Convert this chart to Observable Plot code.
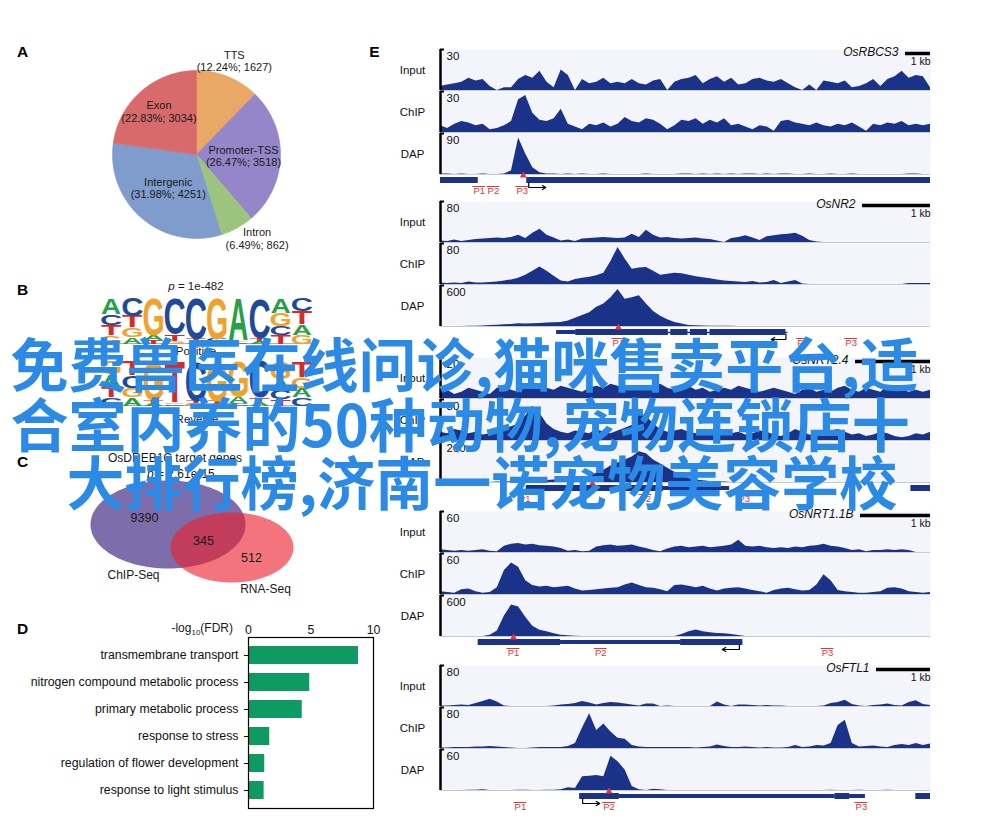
<!DOCTYPE html>
<html><head><meta charset="utf-8">
<script src="https://cdn.jsdelivr.net/npm/d3@7"></script>
<script src="https://cdn.jsdelivr.net/npm/@observablehq/plot@0.6"></script>
<style>
body{margin:0;background:#fff;}
#fig{position:relative;width:1000px;height:826px;overflow:hidden;background:#fff;font-family:"Liberation Sans",Arial,sans-serif;}
#fig > *{position:absolute;}
.lbl{position:absolute;line-height:1.2;white-space:nowrap;color:#1a1a1a;font-family:"Liberation Sans",Arial,sans-serif;}
</style></head><body><div id="fig"></div>
<script>
// ---------------- DATA ----------------
// A: genomic distribution
const pieNames = ["TTS", "Promoter-TSS", "Intron", "Intergenic", "Exon"];
const pieCounts = [1627, 3518, 862, 4251, 3034];
const piePct = ["12.24", "26.47", "6.49", "31.98", "22.83"];
const pieColors = ["#e9a865", "#9486c8", "#9cc47f", "#7f9ccd", "#d96a6b"];

// B: motif letter frequencies per position (forward)
const logoLetters = ["A", "C", "G", "T"];
const logoFreq = {
  A: [.36, .15, .10, .00, .05, .05, .92, .06, .33, .23],
  C: [.24, .40, .00, .80, .90, .05, .04, .88, .20, .30],
  G: [.18, .20, .82, .05, .00, .90, .04, .00, .28, .19],
  T: [.22, .25, .08, .15, .05, .00, .00, .06, .19, .28]
};
const logoColors = {A: "#28a046", C: "#1f4a99", G: "#f2a12a", T: "#d62a2a"};

// C: overlap counts
const vennChip = 9390, vennBoth = 345, vennRna = 512;

// D: GO terms
const goTerms = ["transmembrane transport", "nitrogen compound metabolic process", "primary metabolic process", "response to stress", "regulation of flower development", "response to light stimulus"];
const goValues = [8.8, 4.9, 4.3, 1.7, 1.3, 1.25];
const goTicks = [0, 5, 10];

// E: coverage tracks (binned)
const rbcs3Input = [3,4,5,6,9,7,8,3,0,2, 2,8,11,9,14,6,2,15,11,0, 8,5,6,9,5,6,5,8,5,4, 7,8,0,6,8,9,11,5,8,10, 6,9,4,5,8,9,7,6,8,5, 2,0,4,0,7,6,5,7,2,3, 5,8,3,8,10,14,9,11,10,2];
const rbcs3Chip = [5,3,6,8,7,5,6,2,3,5, 8,24,27,14,9,8,10,17,6,4, 2,6,5,7,4,6,11,8,7,10, 9,6,2,5,9,8,10,6,9,7, 10,5,6,4,2,5,4,1,8,9, 7,6,5,7,5,4,6,5,7,4, 1,6,5,7,6,8,5,6,5,6];
const rbcs3Dap = [1,1,0,1,0,0,1,0,0,1, 8,80,45,15,4,1,1,0,1,0, 1,0,0,1,0,0,0,0,0,1, 0,0,0,0,1,1,0,1,0,1, 0,1,0,1,1,0,1,0,1,1, 0,0,1,0,0,1,0,0,1,0, 0,0,0,0,0,0,1,1,0,0];
const nr2Input = [3,2,5,2,4,6,7,8,9,8, 10,14,8,18,26,14,9,3,5,2, 7,8,9,10,9,8,9,16,10,24, 14,9,10,8,7,8,9,7,6,3, 0,8,10,13,9,4,11,13,15,16, 18,12,4,1,0,0,0,0,0,0, 0,0,0,0,0,0,0,0,0,0];
const nr2Chip = [3,2,3,2,5,3,3,4,5,7, 9,12,18,26,34,26,16,7,5,10, 12,14,17,22,45,72,50,30,32,33, 26,18,20,22,21,18,15,13,11,9, 7,6,5,4,6,3,4,8,2,5, 8,1,0,0,0,0,0,0,0,0, 0,0,0,0,0,0,2,2,2,2];
const nr2Dap = [0,0,0,0,3,5,8,15,20,25, 30,40,35,40,45,50,55,60,80,120, 160,200,280,330,420,540,400,420,450,330, 220,150,100,60,35,15,10,8,5,4, 3,2,0,0,0,0,0,0,0,0, 0,0,0,0,0,0,0,0,0,0, 0,0,0,0,0,0,0,0,0,0];
const nrt24Input = [3,4,2,3,5,4,3,2,5,6, 4,3,5,6,7,5,4,6,5,4, 3,5,6,5,7,6,5,4,6,5, 6,7,5,4,5,6,4,5,3,4, 5,4,6,5,4,3,4,5,4,3, 2,4,5,3,4,3,5,6,4,3, 5,4,3,6,5,4,3,4,3,4];
const nrt24Chip = [6,5,8,7,5,6,4,5,7,9, 10,12,18,25,20,12,8,6,5,7, 6,5,8,6,5,7,9,11,20,18, 12,8,6,7,8,6,5,4,6,8, 7,5,6,4,5,7,6,4,3,5, 8,6,4,3,5,7,8,6,4,5, 3,4,6,5,3,2,3,5,4,6];
const nrt24Dap = [0,0,0,0,0,0,0,0,2,3, 4,5,5,6,8,10,12,14,15,18, 20,30,45,60,80,95,110,125,150,140, 110,90,70,50,35,20,12,8,5,3, 2,0,0,0,0,0,0,0,0,0, 0,0,0,0,0,0,0,0,0,0, 0,0,0,0,0,0,0,0,0,0];
const nrt11bInput = [4,3,2,3,2,3,4,2,1,9, 12,13,11,12,10,9,8,6,2,3, 1,2,8,10,11,9,10,11,8,6, 3,1,5,8,9,7,8,9,7,8, 9,11,18,9,8,9,7,6,7,6, 8,7,9,10,12,9,8,6,3,4, 1,3,3,4,3,4,3,0,0,0];
const nrt11bChip = [4,3,2,7,8,4,2,3,10,35, 46,40,20,13,11,12,10,11,12,8, 5,6,7,8,9,10,14,17,13,10, 9,7,4,13,14,12,10,12,8,5, 8,9,10,8,6,4,2,6,8,9, 7,5,6,14,29,20,6,4,3,2, 2,3,4,9,10,8,4,3,2,3];
const nrt11bDap = [0,0,0,0,0,0,0,20,80,300, 460,430,280,150,90,70,40,20,10,4, 0,0,0,0,0,0,0,0,0,0, 0,0,0,0,30,70,95,70,55,45, 40,30,15,0,0,0,0,0,0,0, 0,0,0,0,0,0,0,0,0,0, 0,0,0,0,0,0,0,0,0,0];
const ftl1Input = [1,1,2,3,2,6,10,14,9,1, 0,0,0,0,0,0,1,3,4,6, 10,7,3,6,8,7,5,3,1,5, 5,0,1,0,0,0,0,0,0,9, 3,0,3,3,2,1,2,1,1,0, 0,0,0,0,1,6,8,12,4,1, 0,2,3,5,2,1,8,11,4,2];
const ftl1Chip = [1,1,2,2,2,3,3,4,3,2, 1,0,0,1,2,2,2,2,4,10, 40,68,35,48,32,20,18,6,3,2, 2,2,2,2,2,2,1,2,3,7, 4,2,2,3,2,1,2,1,1,2, 6,2,3,6,5,10,45,55,10,3, 4,5,3,2,6,8,6,10,6,9];
const ftl1Dap = [0,0,0,0,0.5,0.5,1,0,0,0, 0,0.5,0.5,0,0,0.5,0.5,1,4,3, 20,21,22,20,50,42,30,6,1,0, 2,1,0,0,0,0,0,0,0,0, 0,0,0,0,0,0,0,0,0,0, 0,0,0,0,0,0.5,0,0,0,0.5, 0,0,0,0.5,0,0,0,0,0,0];

// gene models, in percent of the window: [start, end, thickness]
const rbcs3Exons = [[0, 7.7, 6], [17.6, 100, 6]];
const rbcs3Lines = [];
const rbcs3Site = 16.9, rbcs3Primers = [7.9, 10.8, 16.7], rbcs3Tss = [18, 21.5];
const nr2Exons = [[23.7, 27.6, 4], [27.6, 46.5, 6], [47, 50.5, 6], [51, 54.5, 6], [55, 70.5, 6]];
const nr2Lines = [[23.7, 70.9]];
const nr2Site = 36.3, nr2Primers = [36.3, 74, 83.8], nr2Tss = [70.5, 67.5];
const nrt24Exons = [[17.5, 45.5, 6], [45.5, 59, 4], [96, 100, 6]];
const nrt24Lines = [[17.5, 59]];
const nrt24Site = 31, nrt24Primers = [17.2, 41.8, 62], nrt24Tss = null;
const nrt11bExons = [[7.7, 24.5, 6], [24.5, 49, 4], [49, 61.7, 6]];
const nrt11bLines = [[7.7, 61.7]];
const nrt11bSite = 14.9, nrt11bPrimers = [14.9, 32.7, 79], nrt11bTss = [61, 57.5];
const ftl1Exons = [[28.4, 36.5, 6], [36.5, 80.5, 4], [80.5, 83.5, 6], [83.5, 86.7, 4], [97, 100, 6]];
const ftl1Lines = [[28.4, 86.7]];
const ftl1Site = 34.4, ftl1Primers = [16.3, 34.4, 85.9], ftl1Tss = [29, 32.5];

const overlayLines = ["免费兽医在线问诊,猫咪售卖平台,适", "合室内养的50种动物,宠物连锁店十", "大排行榜,济南一诺宠物美容学校"];

// ---------------- HELPERS ----------------
const fig = document.getElementById("fig");
const pstyle = "background:transparent;overflow:visible;max-width:none;font-family:'Liberation Sans',Arial,sans-serif;font-size:11px;color:#111;";
function place(el, left, top) { el.style.position = "absolute"; el.style.left = left + "px"; el.style.top = top + "px"; fig.appendChild(el); return el; }
function htmlLabel(html, x, y, anchor, size) {
  const d = document.createElement("div");
  d.className = "lbl"; d.innerHTML = html; d.style.fontSize = size + "px";
  d.style.top = (y - size * 0.62) + "px";
  if (anchor === "middle") { d.style.left = x + "px"; d.style.transform = "translateX(-50%)"; }
  else if (anchor === "end") { d.style.right = (1000 - x) + "px"; }
  else d.style.left = x + "px";
  fig.appendChild(d);
}
const pageScales = {x: {domain: [0, 1000], range: [0, 1000], axis: null}, y: {domain: [0, 826], range: [0, 826], axis: null}};

// ---------------- PANEL LETTERS ----------------
const panelLetters = ["A", "B", "C", "D", "E"];
const panelPos = [[22, 52], [22, 290], [22, 462], [22, 629], [374, 52]];
place(Plot.plot({width: 1000, height: 826, margin: 0, ...pageScales, style: pstyle,
  marks: [Plot.text(panelLetters, {x: (d, i) => panelPos[i][0], y: (d, i) => panelPos[i][1], text: d => d, fontSize: 15.5, fontWeight: "bold", fill: "#000", textAnchor: "middle"})]
}), 0, 0);

// ---------------- A: PIE ----------------
{
  const R = 84, W = 300, H = 230;
  const total = d3.sum(pieCounts);
  let acc = 0;
  const slices = pieNames.map((name, k) => {
    const a0 = acc / total * 2 * Math.PI; acc += pieCounts[k]; const a1 = acc / total * 2 * Math.PI;
    return {name, a0, a1, mid: (a0 + a1) / 2, count: pieCounts[k], pct: piePct[k], color: pieColors[k]};
  });
  const labelR = [1.2, 0.56, 1.2, 0.52, 0.68];
  const labelShift = [[0, 0], [0, 0], [0.14, 0.05], [0, 0], [0, 0]];
  const wedge = s => {
    const pts = [[0, 0]];
    const steps = Math.max(2, Math.ceil((s.a1 - s.a0) / (Math.PI / 180)));
    for (let j = 0; j <= steps; j++) { const a = s.a0 + (s.a1 - s.a0) * j / steps; pts.push([Math.sin(a), Math.cos(a)]); }
    pts.push([0, 0]);
    return pts;
  };
  place(Plot.plot({width: W, height: H, margin: 0, style: pstyle,
    x: {domain: [-W / 2 / R, W / 2 / R], axis: null}, y: {domain: [-H / 2 / R, H / 2 / R], axis: null},
    marks: [
      ...slices.map(s => Plot.line(wedge(s), {x: d => d[0], y: d => d[1], fill: s.color, stroke: s.color, strokeWidth: 0.6})),
      Plot.text(slices, {
        x: (s, i) => labelR[i] * Math.sin(s.mid) + labelShift[i][0],
        y: (s, i) => labelR[i] * Math.cos(s.mid) + labelShift[i][1],
        text: s => `${s.name}\n(${s.pct}%; ${s.count})`, fontSize: 11, lineHeight: 1.12, fill: "#1a1a1a"})
    ]}), 196 - W / 2, 153.5 - H / 2);
}

// ---------------- B: LOGO ----------------
function logoRows(freq) {
  const rows = [];
  for (let j = 0; j < 10; j++) {
    const ls = logoLetters.map(L => ({L, f: freq[L][j]})).filter(d => d.f > 0).sort((a, b) => a.f - b.f);
    let c = 0;
    ls.forEach(d => { rows.push({pos: j + 1, letter: d.L, y1: c, y2: c + d.f}); c += d.f; });
  }
  return rows;
}
const comp = {A: "T", C: "G", G: "C", T: "A"};
const revFreq = {};
logoLetters.forEach(L => { revFreq[L] = logoFreq[comp[L]].slice().reverse(); });
const inkW = {A: 7.1, C: 6.4, G: 6.9, T: 5.9};
function drawLogo(freq, top, height) {
  const rows = logoRows(freq);
  const W = 212;
  const p = Plot.plot({width: W, height, margin: 0, style: pstyle,
    x: {domain: [0.5, 10.5], axis: null}, y: {domain: [0, 1], axis: null}, color: {type: "identity"},
    marks: [
      Plot.ruleY([0], {stroke: "#b0b0b0", strokeWidth: 1}),
      Plot.text(rows, {x: "pos", y: "y1", text: "letter", fill: d => logoColors[d.letter], fontSize: 10, fontWeight: "bold", fontFamily: "Liberation Sans, Arial, sans-serif", textAnchor: "middle"})
    ]});
  place(p, 100, top);
  const xs = p.scale && p.scale("x"), ys = p.scale && p.scale("y");
  const fx = v => xs && xs.apply ? xs.apply(v) : (v - 0.5) / 10 * W;
  const fy = v => ys && ys.apply ? ys.apply(v) : (1 - v) * height;
  const texts = p.querySelectorAll('g[aria-label="text"] text');
  texts.forEach((t, k) => {
    const d = rows[k]; if (!d) return;
    const X = fx(d.pos), Yb = fy(d.y1), Yt = fy(d.y2);
    const w = (fx(2) - fx(1)) * 0.93, h = Math.max(0.1, Yb - Yt);
    t.setAttribute("y", "0"); t.removeAttribute("dy");
    t.setAttribute("transform", `translate(${X},${Yb}) scale(${w / inkW[d.letter]},${h / 7.25})`);
  });
}
drawLogo(logoFreq, 297, 46);
drawLogo(revFreq, 360, 45);
htmlLabel("<i>p</i> = 1e-482", 196, 287, "middle", 11.5);
htmlLabel("Positive", 196, 352, "middle", 11.5);
htmlLabel("Reverse", 197, 420, "middle", 11.5);

// ---------------- C: VENN ----------------
{
  const ell = [{cx: 107.5, cy: 84, rx: 77.5, ry: 44, fill: "#7e6dab", op: 1}, {cx: 171.5, cy: 107, rx: 61.5, ry: 35, fill: "#ec1f2c", op: 0.62}];
  const ellPts = e => d3.range(0, 361, 3).map(a => [e.cx + e.rx * Math.cos(a * Math.PI / 180), e.cy + e.ry * Math.sin(a * Math.PI / 180)]);
  const vennLabels = [
    {t: String(vennChip), x: 84, y: 77, s: 12.5}, {t: String(vennBoth), x: 143, y: 100, s: 12.5}, {t: String(vennRna), x: 191, y: 117, s: 12.5},
    {t: "ChIP-Seq", x: 73, y: 135, s: 12}, {t: "RNA-Seq", x: 205, y: 149, s: 12}, {t: "OsDREB1C target genes", x: 114.5, y: 18, s: 12}
  ];
  place(Plot.plot({width: 280, height: 160, margin: 0, style: pstyle,
    x: {domain: [0, 280], range: [0, 280], axis: null}, y: {domain: [0, 160], range: [0, 160], axis: null},
    marks: [
      ...ell.map(e => Plot.line(ellPts(e), {x: d => d[0], y: d => d[1], fill: e.fill, fillOpacity: e.op, stroke: "none"})),
      Plot.text(vennLabels, {x: "x", y: "y", text: "t", fontSize: d => d.s, fill: "#1a1a1a"})
    ]}), 60, 440);
  htmlLabel("<i>p</i> = 2.61e-15", 147, 474, "start", 12);
}

// ---------------- D: GO BARS ----------------
place(Plot.plot({width: 390, height: 205, marginLeft: 248, marginRight: 17, marginTop: 27, marginBottom: 7,
  style: pstyle + "font-size:12.3px;",
  x: {domain: [0, 10], axis: "top", ticks: goTicks, tickSize: 0, tickPadding: 4, label: null},
  y: {domain: goTerms, label: null, tickSize: 4, tickPadding: 6, paddingInner: 0.34, paddingOuter: 0.29},
  marks: [
    Plot.barX(goTerms.map((t, i) => ({t, v: goValues[i]})), {x: "v", y: "t", fill: "#0f9a64"}),
    Plot.frame({stroke: "#000", strokeWidth: 1.2})
  ]}), 0, 610);
htmlLabel("-log<sub style='font-size:8px'>10</sub>(FDR)", 233, 628, "end", 12);

// ---------------- E: TRACKS ----------------
const navy = "#1a3388", red = "#e0363c";
function trackPlot(values, max, label, head) {
  const n = values.length, h = 41;
  const pts = values.map((v, i) => ({i, v}));
  const marks = [
    Plot.frame({fill: "#f4f5fa", stroke: "none"}),
    Plot.ruleY([0], {stroke: "#c5c8d8", strokeWidth: 1}),
    Plot.areaY(pts, {x: "i", y: "v", fill: navy, curve: "linear"}),
    Plot.ruleX([0], {stroke: "#000", strokeWidth: 2.5}),
    Plot.ruleY([max], {x1: 0, x2: (n - 1) * 4 / 490, stroke: "#000", strokeWidth: 2}),
    Plot.text([String(max)], {text: d => d, frameAnchor: "top-left", dx: 6, dy: 2, lineAnchor: "top", fontSize: 11.5, fill: "#111"}),
    Plot.text([label], {text: d => d, frameAnchor: "left", dx: -28, textAnchor: "middle", fontSize: 11.5, fill: "#111"})
  ];
  if (head) {
    const bw = head.bar * (n - 1) / 490;
    marks.push(
      Plot.ruleY([max * (1 - 4 / h)], {x1: n - 1 - bw, x2: n - 1, stroke: "#000", strokeWidth: 3.5}),
      Plot.text([head.name], {text: d => d, frameAnchor: "top-right", dx: -(head.bar + 7), dy: -2, lineAnchor: "top", fontStyle: "italic", fontSize: 12, fill: "#111"}),
      Plot.text(["1 kb"], {text: d => d, frameAnchor: "top-right", dy: 8, lineAnchor: "top", fontSize: 10.5, fill: "#111"})
    );
  }
  return Plot.plot({width: 550, height: h, marginLeft: 60, marginRight: 0, marginTop: 0, marginBottom: 0,
    x: {domain: [0, n - 1], axis: null}, y: {domain: [0, max], axis: null}, style: pstyle, marks});
}
function genePlot(m) {
  const H = 24, gy = 6;
  const marks = [
    Plot.ruleY(m.lines, {x1: d => d[0], x2: d => d[1], y: gy, stroke: navy, strokeWidth: 1.5}),
    Plot.rect(m.exons, {x1: d => d[0], x2: d => d[1], y1: d => gy - d[2] / 2, y2: d => gy + d[2] / 2, fill: navy}),
    Plot.dot([m.site], {x: d => d, y: gy - 5, symbol: "triangle", r: 2.6, fill: red, stroke: "none"}),
    Plot.ruleY(m.primers, {x1: d => d - 1.3, x2: d => d + 1.3, y: gy + 6, stroke: red, strokeWidth: 1}),
    Plot.text(m.primers, {x: d => d, y: gy + 6.5, text: (d, i) => "P" + (i + 1), lineAnchor: "top", fontSize: 9.5, fill: red})
  ];
  if (m.tss) marks.push(
    Plot.ruleX([m.tss[0]], {y1: gy + 2, y2: gy + 7, stroke: "#000", strokeWidth: 1.2}),
    Plot.arrow([m.tss], {x1: d => d[0], x2: d => d[1], y1: gy + 7, y2: gy + 7, stroke: "#000", strokeWidth: 1.2, headLength: 5})
  );
  return Plot.plot({width: 550, height: H, marginLeft: 60, marginRight: 0, marginTop: 0, marginBottom: 0,
    x: {domain: [0, 100], axis: null}, y: {domain: [0, H], range: [0, H], axis: null}, style: pstyle, marks});
}
const eGroups = [
  {name: "OsRBCS3", bar: 25, top: 49, tracks: [["Input", 30, rbcs3Input], ["ChIP", 30, rbcs3Chip], ["DAP", 90, rbcs3Dap]],
   model: {lines: rbcs3Lines, exons: rbcs3Exons, site: rbcs3Site, primers: rbcs3Primers, tss: rbcs3Tss}},
  {name: "OsNR2", bar: 68, top: 201, tracks: [["Input", 80, nr2Input], ["ChIP", 80, nr2Chip], ["DAP", 600, nr2Dap]],
   model: {lines: nr2Lines, exons: nr2Exons, site: nr2Site, primers: nr2Primers, tss: nr2Tss}},
  {name: "OsNRT2.4", bar: 75, top: 357, tracks: [["Input", 20, nrt24Input], ["ChIP", 30, nrt24Chip], ["DAP", 200, nrt24Dap]],
   model: {lines: nrt24Lines, exons: nrt24Exons, site: nrt24Site, primers: nrt24Primers, tss: nrt24Tss}},
  {name: "OsNRT1.1B", bar: 70, top: 511, tracks: [["Input", 60, nrt11bInput], ["ChIP", 60, nrt11bChip], ["DAP", 600, nrt11bDap]],
   model: {lines: nrt11bLines, exons: nrt11bExons, site: nrt11bSite, primers: nrt11bPrimers, tss: nrt11bTss}},
  {name: "OsFTL1", bar: 54, top: 665, tracks: [["Input", 80, ftl1Input], ["ChIP", 80, ftl1Chip], ["DAP", 60, ftl1Dap]],
   model: {lines: ftl1Lines, exons: ftl1Exons, site: ftl1Site, primers: ftl1Primers, tss: ftl1Tss}}
];
eGroups.forEach(g => {
  g.tracks.forEach(([label, max, vals], k) => place(trackPlot(vals, max, label, k === 0 ? g : null), 380, g.top + k * 42));
  place(genePlot(g.model), 380, g.top + 131 - 6);
});

// ---------------- OVERLAY TEXT ----------------
const overlayPos = [[10, 368], [10, 428], [66, 486]];
place(Plot.plot({width: 1000, height: 826, margin: 0, ...pageScales, style: pstyle,
  marks: [Plot.text(overlayLines, {x: (d, i) => overlayPos[i][0], y: (d, i) => overlayPos[i][1], text: d => d, textAnchor: "start",
    fontSize: 58, fontWeight: "bold", fontFamily: "Noto Sans CJK SC, sans-serif", fill: "#2a8ae6"})]
}), 0, 0);
</script></body></html>
